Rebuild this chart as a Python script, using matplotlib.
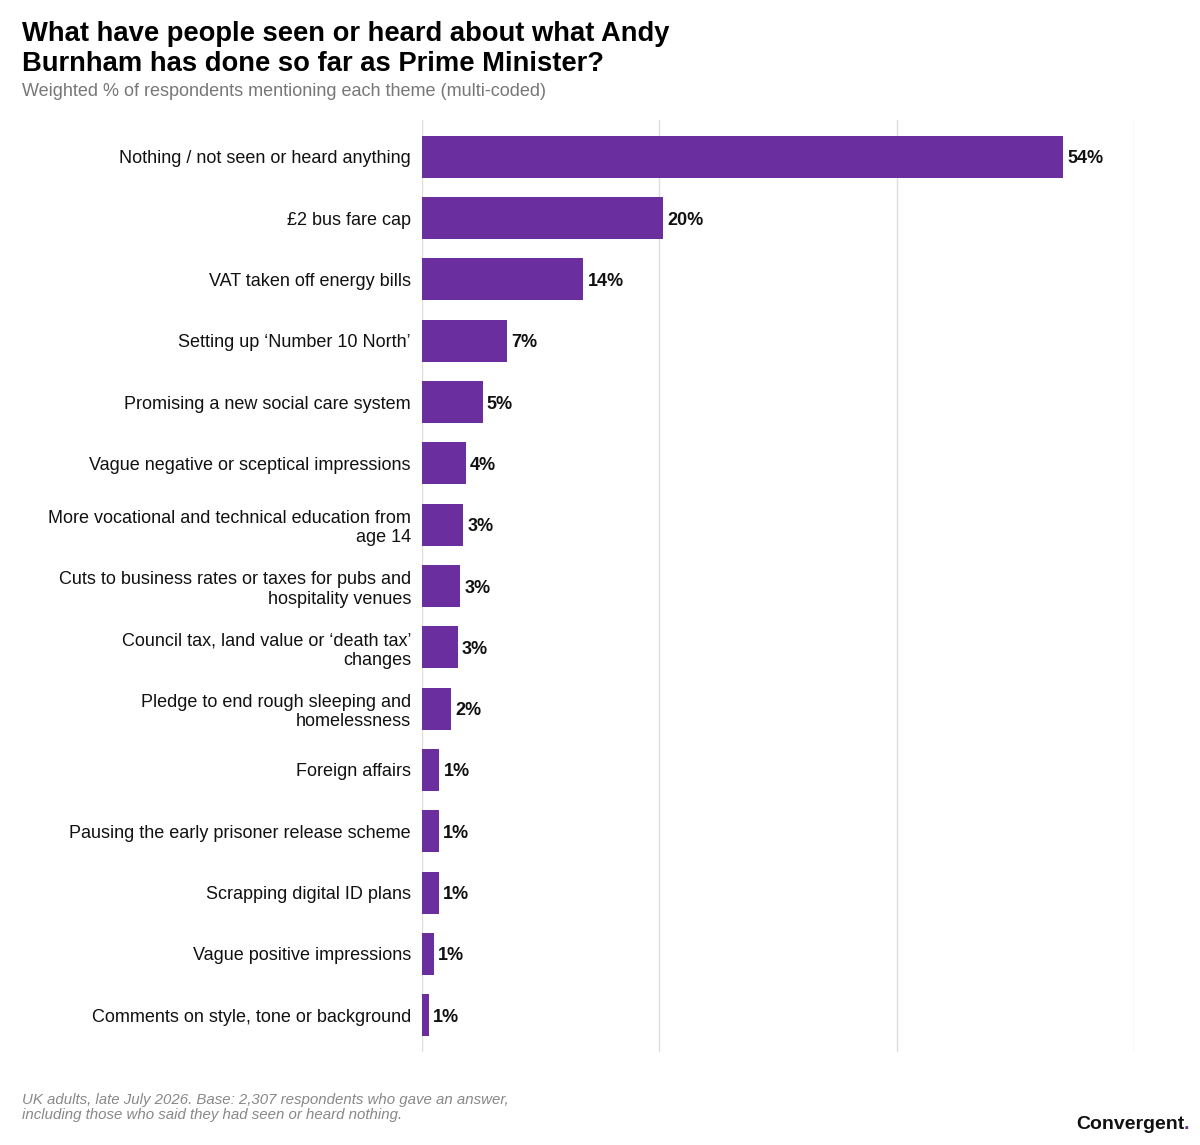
import matplotlib
matplotlib.use("Agg")
import matplotlib.pyplot as plt

plt.rcParams['font.family'] = ['Liberation Sans', 'DejaVu Sans']

# data
themes = [
    "Nothing / not seen or heard anything",
    "£2 bus fare cap",
    "VAT taken off energy bills",
    "Setting up \u2018Number 10 North\u2019",
    "Promising a new social care system",
    "Vague negative or sceptical impressions",
    "More vocational and technical education from\nage 14",
    "Cuts to business rates or taxes for pubs and\nhospitality venues",
    "Council tax, land value or \u2018death tax\u2019\nchanges",
    "Pledge to end rough sleeping and\nhomelessness",
    "Foreign affairs",
    "Pausing the early prisoner release scheme",
    "Scrapping digital ID plans",
    "Vague positive impressions",
    "Comments on style, tone or background",
]
pct = [54.0, 20.3, 13.6, 7.2, 5.1, 3.7, 3.45, 3.2, 3.0, 2.45, 1.45, 1.4, 1.4, 1.0, 0.6]

purple = '#6A2E9E'

fig = plt.figure(figsize=(12, 11.45), dpi=100)
ax = fig.add_axes([0.3517, 0.0812, 0.5933, 0.8140])

y = list(range(len(themes)))
ax.barh(y, pct, height=0.685, color=purple, zorder=3)
for yi, v in zip(y, pct):
    ax.text(v + 0.35, yi, f"{v:.0f}%", va='center_baseline', ha='left',
            fontsize=13, fontweight='bold', color='#111111', zorder=4)

ax.set_xlim(0, 60)
ax.set_ylim(len(themes) - 0.4, -0.6)
ax.set_xticks([0, 20, 40, 60])
ax.xaxis.grid(True, color='#dddddd', linewidth=1, zorder=0)
ax.set_xticklabels([])
ax.tick_params(axis='x', length=0)
ax.set_yticks(y)
ax.set_yticklabels(themes, fontsize=13, color='#111111', ha='right')
ax.tick_params(axis='y', length=0, pad=8)
for s in ax.spines.values():
    s.set_visible(False)

fig.text(0.0183, 0.982, "What have people seen or heard about what Andy\nBurnham has done so far as Prime Minister?",
         fontsize=19.7, fontweight='bold', va='top', ha='left', linespacing=1.2)
fig.text(0.0183, 0.9205, "Weighted % of respondents mentioning each theme (multi-coded)",
         fontsize=13, color='#777777', va='center', ha='left')

fig.text(0.0183, 0.033, "UK adults, late July 2026. Base: 2,307 respondents who gave an answer,\n"
         "including those who said they had seen or heard nothing.",
         fontsize=10.8, style='italic', color='#888888', va='center', ha='left', linespacing=1.1)
t = fig.text(0.9867, 0.0175, "Convergent", fontsize=14, fontweight='bold', color='#111111',
             ha='right', va='center')
ax.annotate(".", xy=(1, 0), xycoords=t, fontsize=14, fontweight='bold', color=purple,
            ha='left', va='bottom', annotation_clip=False)

fig.savefig("out.png", dpi=100)
